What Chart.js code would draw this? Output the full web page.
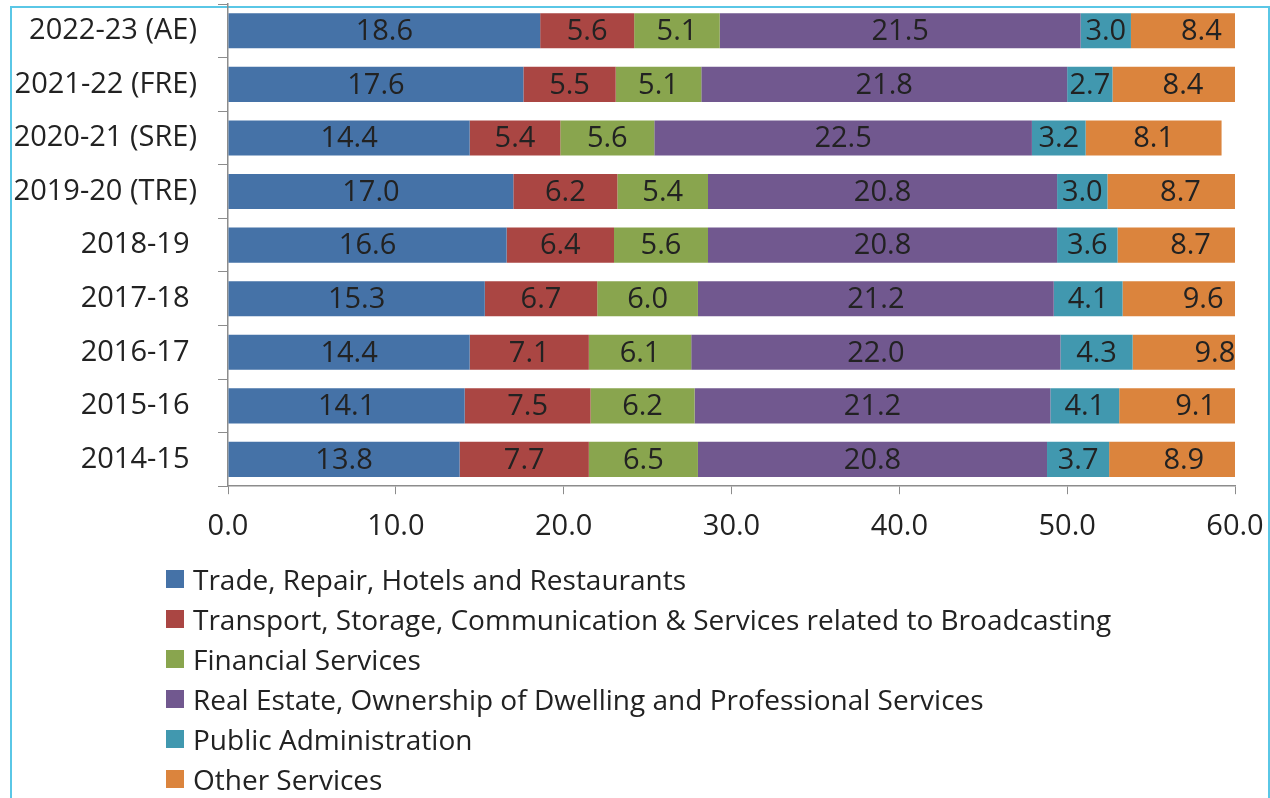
<!DOCTYPE html>
<html>
<head>
<meta charset="utf-8">
<script src="https://cdn.jsdelivr.net/npm/chart.js@4.4.1/dist/chart.umd.min.js"></script>
<style>
  html, body { margin: 0; padding: 0; background: #fff; }
  body { width: 1270px; height: 798px; position: relative; overflow: hidden; font-family: "Open Sans", sans-serif; }
  #frame { position: absolute; left: 10px; top: 6px; width: 1256px; height: 830px; border: 2px solid #5ac7e6; }
  #wrap { position: absolute; left: 0; top: 0; width: 1270px; height: 562px; }
  #legend { position: absolute; left: 166px; top: 559px; margin: 0; padding: 0; list-style: none; }
  #legend li { height: 40px; display: flex; align-items: center; font-size: 28px; color: #222; white-space: nowrap; }
  #legend .box { width: 18px; height: 18px; margin-right: 9px; flex: none; }
</style>
</head>
<body>
<div id="frame"></div>
<div id="wrap"><canvas id="shareChart"></canvas></div>
<ul id="legend"></ul>
<script>
const years = ['2022-23 (AE)', '2021-22 (FRE)', '2020-21 (SRE)', '2019-20 (TRE)', '2018-19 ', '2017-18 ', '2016-17 ', '2015-16 ', '2014-15 '];

const trade     = [18.6, 17.6, 14.4, 17.0, 16.6, 15.3, 14.4, 14.1, 13.8];
const transport = [5.6, 5.5, 5.4, 6.2, 6.4, 6.7, 7.1, 7.5, 7.7];
const financial = [5.1, 5.1, 5.6, 5.4, 5.6, 6.0, 6.1, 6.2, 6.5];
const realEstate = [21.5, 21.8, 22.5, 20.8, 20.8, 21.2, 22.0, 21.2, 20.8];
const publicAdmin = [3.0, 2.7, 3.2, 3.0, 3.6, 4.1, 4.3, 4.1, 3.7];
const otherServices = [8.4, 8.4, 8.1, 8.7, 8.7, 9.6, 9.8, 9.1, 8.9];

const xTicks = [0, 10, 20, 30, 40, 50, 60];

const series = [
  { label: 'Trade, Repair, Hotels and Restaurants', data: trade, color: '#4572a7' },
  { label: 'Transport, Storage, Communication & Services related to Broadcasting', data: transport, color: '#aa4643' },
  { label: 'Financial Services', data: financial, color: '#89a54e' },
  { label: 'Real Estate, Ownership of Dwelling and Professional Services', data: realEstate, color: '#71588f' },
  { label: 'Public Administration', data: publicAdmin, color: '#4198af' },
  { label: 'Other Services', data: otherServices, color: '#db843d' }
];

const FONT = '"Open Sans", sans-serif';
const TEXT = '#222222';
const AXIS = '#8c8c8c';

// value in the middle of every segment (uses the unclipped segment centre)
const segmentLabels = {
  id: 'segmentLabels',
  afterDatasetsDraw(chart) {
    const ctx = chart.ctx;
    ctx.save();
    ctx.font = '29px ' + FONT;
    ctx.fillStyle = TEXT;
    ctx.textAlign = 'center';
    ctx.textBaseline = 'middle';
    chart.data.datasets.forEach((ds, i) => {
      chart.getDatasetMeta(i).data.forEach((bar, j) => {
        const cx = (bar.x + bar.base) / 2;
        ctx.fillText(ds.data[j].toFixed(1), cx, bar.y + 1);
      });
    });
    ctx.restore();
  }
};

// keep the plot edges where the layout padding puts them
function noLabelPadding(scale) {
  scale.paddingTop = 0;
  scale.paddingBottom = 0;
  scale.paddingLeft = 0;
  scale.paddingRight = 0;
}

const chart = new Chart(document.getElementById('shareChart'), {
  type: 'bar',
  data: {
    labels: years,
    datasets: series.map(s => ({
      label: s.label,
      data: s.data,
      backgroundColor: s.color,
      borderWidth: 0,
      categoryPercentage: 1,
      barPercentage: 0.655
    }))
  },
  options: {
    indexAxis: 'y',
    responsive: true,
    maintainAspectRatio: false,
    animation: false,
    layout: { padding: { top: 4, right: 35, bottom: 3, left: 0 } },
    plugins: {
      legend: { display: false },
      tooltip: { enabled: false }
    },
    scales: {
      x: {
        stacked: true,
        min: 0,
        max: 60,
        afterBuildTicks: scale => { scale.ticks = xTicks.map(v => ({ value: v })); },
        afterFit: noLabelPadding,
        ticks: {
          font: { family: FONT, size: 29 },
          color: TEXT,
          padding: 15,
          maxRotation: 0,
          callback: v => Number(v).toFixed(1)
        },
        grid: { drawOnChartArea: false, drawTicks: true, tickLength: 8, color: AXIS },
        border: { color: AXIS, width: 1.5 }
      },
      y: {
        stacked: true,
        afterFit: scale => { noLabelPadding(scale); scale.width = 228; },
        ticks: {
          font: { family: FONT, size: 29 },
          color: TEXT,
          padding: 21
        },
        grid: { drawOnChartArea: false, drawTicks: true, tickLength: 10, color: AXIS, offset: true },
        border: { color: AXIS, width: 1.5 }
      }
    }
  },
  plugins: [segmentLabels]
});

// legend listed one entry per row under the plot
const legend = document.getElementById('legend');
series.forEach(s => {
  const li = document.createElement('li');
  const box = document.createElement('span');
  box.className = 'box';
  box.style.background = s.color;
  li.appendChild(box);
  li.appendChild(document.createTextNode(s.label));
  legend.appendChild(li);
});
</script>
</body>
</html>
